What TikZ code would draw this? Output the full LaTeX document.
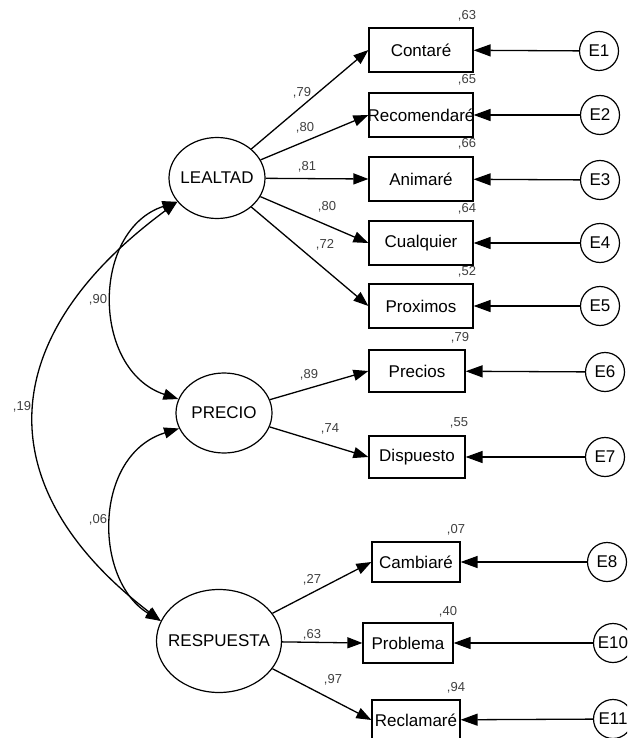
\documentclass[tikz,border=0pt]{standalone}
\usepackage{fontspec}
\setmainfont{Liberation Sans}
\usetikzlibrary{arrows.meta,shapes.geometric}
\newcommand{\zb}[1]{\makebox[0pt]{#1}}
\begin{document}
\begin{tikzpicture}[x=1pt,y=-1pt,
  txt/.style={font=\fontsize{17}{19}\selectfont},
  lat/.style={draw, ellipse, line width=1.2pt, inner sep=0pt, txt},
  obs/.style={draw, rectangle, line width=1.2pt, inner sep=0pt, minimum width=104pt, minimum height=44pt, txt},
  err/.style={draw, circle, line width=1.2pt, minimum size=39pt, inner sep=0pt, txt},
  pth/.style={line width=1.3pt, -{Triangle[length=15pt,width=11pt]}},
  epth/.style={line width=1.3pt, -{Triangle[length=17pt,width=12pt]}},
  cov/.style={line width=1.3pt, {Triangle[length=15pt,width=11pt]}-{Triangle[length=15pt,width=11pt]}},
  lab/.style={font=\fontsize{13}{15}\selectfont, text=black!75, inner sep=0pt}
]
\clip (0,0) rectangle (627,738);
\fill[white] (0,0) rectangle (627,738);

% latent
\node[lat, minimum width=96pt, minimum height=81pt] (L) at (217,178) {\zb{LEALTAD}};
\node[lat, minimum width=96pt, minimum height=80pt] (P) at (224,413) {\zb{PRECIO}};
\node[lat, minimum width=125pt, minimum height=103pt] (R) at (219,641) {\zb{RESPUESTA}};

% observed
\node[obs] (C1) at (421,50) {\zb{Contaré}};
\node[obs] (C2) at (421,115) {\zb{Recomendaré}};
\node[obs] (C3) at (421,179) {\zb{Animaré}};
\node[obs] (C4) at (421,243) {\zb{Cualquier}};
\node[obs] (C5) at (421,306) {\zb{Proximos}};
\node[obs, minimum width=96pt, minimum height=42pt] (P1) at (417,371) {\zb{Precios}};
\node[obs, minimum width=96pt, minimum height=42pt] (P2) at (417,457) {\zb{Dispuesto}};
\node[obs, minimum width=88pt, minimum height=40pt] (R1) at (416,562) {\zb{Cambiaré}};
\node[obs, minimum width=90pt, minimum height=40pt] (R2) at (408,643) {\zb{Problema}};
\node[obs, minimum width=88pt, minimum height=40pt] (R3) at (416,720) {\zb{Reclamaré}};

% errors
\node[err] (E1) at (599,51) {E1};
\node[err] (E2) at (600,115) {E2};
\node[err] (E3) at (600,180) {E3};
\node[err] (E4) at (600,243) {E4};
\node[err] (E5) at (600,306) {E5};
\node[err] (E6) at (605,372) {E6};
\node[err] (E7) at (605,457) {E7};
\node[err] (E8) at (607,562) {E8};
\node[err] (E10) at (613,643) {E10};
\node[err] (E11) at (613,719) {E11};

% loadings
\foreach \t in {C1,C2,C3,C4,C5} \draw[pth] (L) -- (\t.west);
\foreach \t in {P1,P2} \draw[pth] (P) -- (\t.west);
\foreach \t in {R1,R2,R3} \draw[pth] (R) -- (\t.west);

% error arrows
\foreach \e/\t in {E1/C1,E2/C2,E3/C3,E4/C4,E5/C5,E6/P1,E7/P2,E8/R1,E10/R2,E11/R3}
  \draw[epth] (\e) -- (\t);

% covariances
\draw[cov] (L.211) .. controls (91,230) and (91,370) .. (P.163);
\draw[cov] (P.199) .. controls (93,455) and (93,580) .. (R.161);
\draw[cov] (L.211) .. controls (-10,340) and (-10,490) .. (R.161);

% R2 labels
\node[lab] (r1) at (467,16) {,63};
\node[lab] (r2) at (467,80) {,65};
\node[lab] (r3) at (467,144) {,66};
\node[lab] (r4) at (467,209) {,64};
\node[lab] (r5) at (467,272) {,52};
\node[lab] (r6) at (460,338) {,79};
\node[lab] (r7) at (459,423) {,55};
\node[lab] (r8) at (456,530) {,07};
\node[lab] (r9) at (448,612) {,40};
\node[lab] (r10) at (456,688) {,94};

% path labels
\node[lab] (l1) at (302,93) {,79};
\node[lab] (l2) at (305,128) {,80};
\node[lab] (l3) at (307,167) {,81};
\node[lab] (l4) at (327,207) {,80};
\node[lab] (l5) at (325,245) {,72};
\node[lab] (l6) at (309,375) {,89};
\node[lab] (l7) at (330,429) {,74};
\node[lab] (l8) at (312,580) {,27};
\node[lab] (l9) at (312,635) {,63};
\node[lab] (l10) at (333,680) {,97};

% covariance labels
\node[lab] (c1) at (98,300) {,90};
\node[lab] (c2) at (22,407) {,19};
\node[lab] (c3) at (98,520) {,06};
\end{tikzpicture}
\end{document}
